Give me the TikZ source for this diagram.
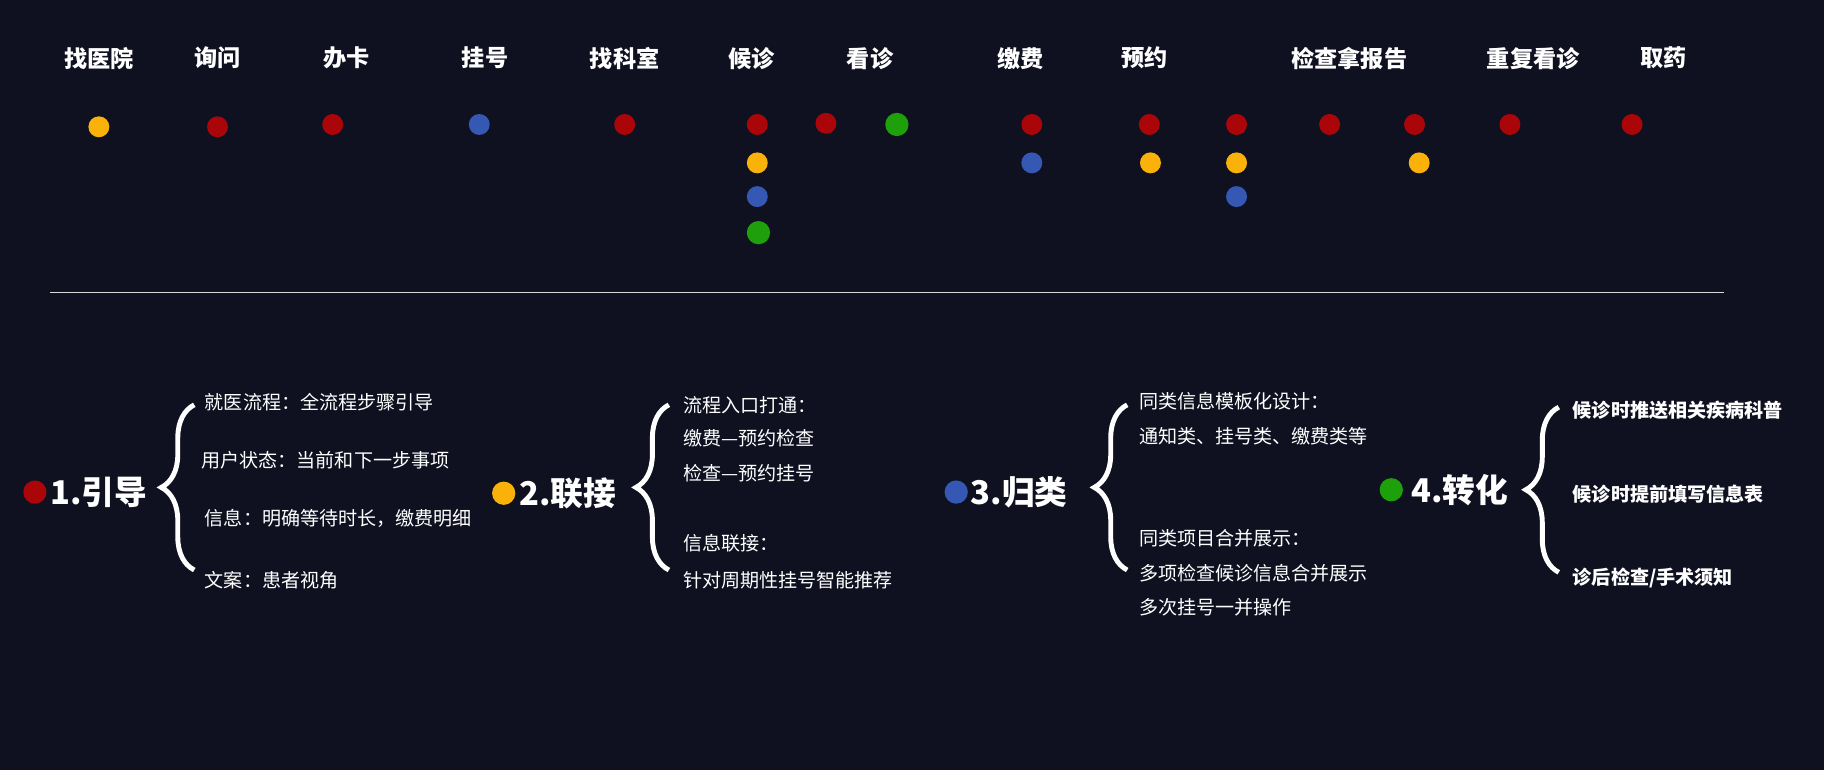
\documentclass[tikz,border=0pt]{standalone}
\usepackage{fontspec}
\setmainfont{Noto Sans CJK SC}
\usetikzlibrary{decorations.pathreplacing}
\definecolor{bgcolor}{RGB}{15,17,32}
\definecolor{dotred}{RGB}{170,6,10}
\definecolor{dotyellow}{RGB}{250,178,10}
\definecolor{dotblue}{RGB}{52,88,180}
\definecolor{dotgreen}{RGB}{30,160,10}
\begin{document}
\begin{tikzpicture}[
    x=0.03cm, y=-0.03cm,
    stage/.style={text=white, font=\fontsize{17}{20}\selectfont\bfseries},
    item/.style={text=white, anchor=west, font=\fontsize{14}{17}\selectfont},
    itembold/.style={item, font=\fontsize{14}{17}\selectfont\bfseries},
    head/.style={text=white, font=\fontsize{24}{28}\selectfont\bfseries},
    dot/.style={circle, inner sep=0pt, minimum size=0.54cm},
    bigdot/.style={circle, inner sep=0pt, minimum size=0.6cm},
    bracket/.style={draw=white, line width=3.6pt, decorate, decoration={brace, amplitude=0.85cm}}
]
    \fill[bgcolor] (0,0) rectangle (1568,662);

    % Stages
    \node[stage] (s1) at (85,50) {找医院};
    \node[stage] (s2) at (187,50) {询问};
    \node[stage] (s3) at (298,50) {办卡};
    \node[stage] (s4) at (417,50) {挂号};
    \node[stage] (s5) at (537,50) {找科室};
    \node[stage] (s6) at (646,50) {候诊};
    \node[stage] (s7) at (748,50) {看诊};
    \node[stage] (s8) at (877,50) {缴费};
    \node[stage] (s9) at (984,50) {预约};
    \node[stage] (s10) at (1160,50) {检查拿报告};
    \node[stage] (s11) at (1318,50) {重复看诊};
    \node[stage] (s12) at (1430,50) {取药};

    % Dots
    \foreach \x/\y/\c [count=\i] in {85/109/dotyellow, 187/109/dotred, 286/107/dotred,
        412/107/dotblue, 537/107/dotred, 651/107/dotred, 651/140/dotyellow, 651/169/dotblue,
        710/106/dotred, 887/107/dotred, 887/140/dotblue, 988/107/dotred, 989/140/dotyellow,
        1063/107/dotred, 1063/140/dotyellow, 1063/169/dotblue, 1143/107/dotred,
        1216/107/dotred, 1220/140/dotyellow, 1298/107/dotred, 1403/107/dotred}
        \node[dot, fill=\c] (d\i) at (\x,\y) {};
    \node[bigdot, fill=dotgreen] (g1) at (652,200) {};
    \node[bigdot, fill=dotgreen] (g2) at (771,107) {};

    % Divider
    \draw[gray!30, line width=0.4pt] (43,251) -- (1482,251);

    % 1
    \node[bigdot, fill=dotred] (k1) at (30,423) {};
    \node[head] (h1) at (85,423) {1.引导};
    \draw[bracket] (167,490) -- (167,348);
    \node[item] (a1) at (172,346) {就医流程：全流程步骤引导};
    \node[item] (a2) at (169,396) {用户状态：当前和下一步事项};
    \node[item] (a3) at (172,446) {信息：明确等待时长，缴费明细};
    \node[item] (a4) at (172,499) {文案：患者视角};

    % 2
    \node[bigdot, fill=dotyellow] (k2) at (433,424) {};
    \node[head] (h2) at (488,424) {2.联接};
    \draw[bracket] (575,490) -- (575,348);
    \node[item] (b1) at (583,348) {流程入口打通：};
    \node[item] (b2) at (583,377) {缴费—预约检查};
    \node[item] (b3) at (583,407) {检查—预约挂号};
    \node[item] (b4) at (583,467) {信息联接：};
    \node[item] (b5) at (583,499) {针对周期性挂号智能推荐};

    % 3
    \node[bigdot, fill=dotblue] (k3) at (822,423) {};
    \node[head] (h3) at (876,423) {3.归类};
    \draw[bracket] (969,490) -- (969,348);
    \node[item] (c1) at (975,345) {同类信息模板化设计：};
    \node[item] (c2) at (975,375) {通知类、挂号类、缴费类等};
    \node[item] (c3) at (975,463) {同类项目合并展示：};
    \node[item] (c4) at (975,493) {多项检查候诊信息合并展示};
    \node[item] (c5) at (975,522) {多次挂号一并操作};

    % 4
    \node[bigdot, fill=dotgreen] (k4) at (1196,421) {};
    \node[head] (h4) at (1255,421) {4.转化};
    \draw[bracket] (1340,492) -- (1340,350);
    \node[itembold] (e1) at (1348,353) {候诊时推送相关疾病科普};
    \node[itembold] (e2) at (1348,425) {候诊时提前填写信息表};
    \node[itembold] (e3) at (1348,497) {诊后检查/手术须知};
\end{tikzpicture}
\end{document}
